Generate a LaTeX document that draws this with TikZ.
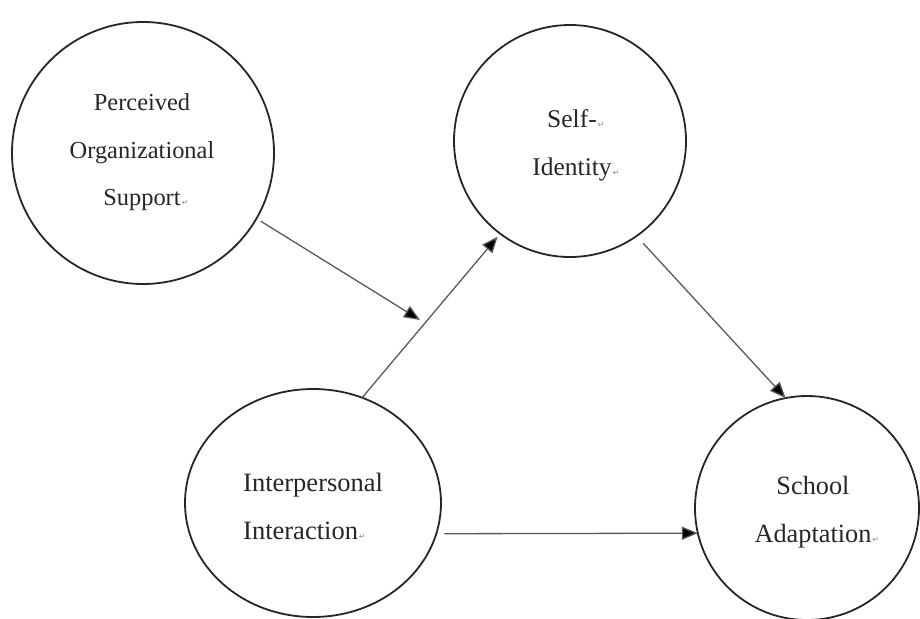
\documentclass[tikz,border=0pt]{standalone}
\usepackage{fontspec}
\setmainfont{Liberation Serif}
\newfontfamily\symfont{DejaVu Sans}
\usetikzlibrary{arrows.meta,shapes.geometric}
\newcommand{\retmk}{\rlap{\hspace{1pt}{\symfont\fontsize{8}{8}\selectfont\color{black!45}↵}}}
\begin{document}
\begin{tikzpicture}[x=1pt,y=-1pt,
  bub/.style={ellipse, draw=black!85, line width=1.8pt, inner sep=0pt, outer sep=0pt},
  lbl/.style={anchor=base, inner sep=0pt, text=black!85},
  link/.style={draw=black!65, line width=1.3pt, -{Triangle[length=16pt,width=13pt,fill=black]}}]
\useasboundingbox (0,0) rectangle (920,618);
% circles
\node[bub, minimum width=262pt, minimum height=262pt] (pos) at (143,153) {};
\node[bub, minimum width=232pt, minimum height=232pt] (si) at (570,141) {};
\node[bub, minimum width=256pt, minimum height=228pt] (ii) at (313,503) {};
\node[bub, minimum width=224pt, minimum height=224pt] (sa) at (807,508) {};
% labels
\begin{scope}[every node/.style={lbl, font=\fontsize{24.4}{29}\selectfont}]
\node (pos1) at (142,110) {Perceived};
\node (pos2) at (142,158) {Organizational};
\node (pos3) at (142,205) {Support\retmk};
\end{scope}
\begin{scope}[every node/.style={lbl, font=\fontsize{25.5}{30}\selectfont}]
\node (si1) at (572,127) {Self-\retmk};
\node (si2) at (572,175) {Identity\retmk};
\end{scope}
\begin{scope}[every node/.style={lbl, anchor=base west, font=\fontsize{26.5}{31}\selectfont}]
\node (ii1) at (243,491) {Interpersonal};
\node (ii2) at (243,539) {Interaction\retmk};
\end{scope}
\begin{scope}[every node/.style={lbl, font=\fontsize{26.3}{31}\selectfont}]
\node (sa1) at (813,494) {School};
\node (sa2) at (813,542) {Adaptation\retmk};
\end{scope}
% connectors
\coordinate (mod) at (420,320);
\draw[link, shorten <=5pt] (pos.-30.9) -- (mod);
\draw[link, shorten >=4pt] (ii.65.6) -- (si.233.8);
\draw[link, shorten <=10pt] (si.-55.3) -- (sa.101.7);
\draw[link, shorten <=8pt] (ii.-14) -- (sa.193.4);
\end{tikzpicture}
\end{document}
